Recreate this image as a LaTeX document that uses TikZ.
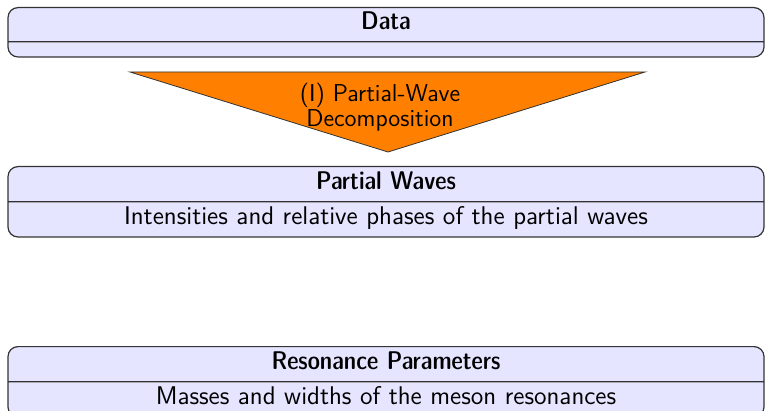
\documentclass[tikz,border=0pt]{standalone}
\usetikzlibrary{shapes.multipart}
\newcommand{\stagetitle}[1]{{\fontseries{sbc}\selectfont #1}}
\tikzset{
  stagebox/.style={rectangle split, rectangle split parts=2, draw=black!80,
    fill=blue!10, rounded corners=5pt, line width=0.6pt, text width=370pt,
    align=center, inner xsep=4pt, inner ysep=2pt,
    font=\sffamily\fontsize{12.8}{13}\selectfont},
  stepwedge/.style={fill=orange, draw=black!80, line width=0.4pt},
  steplabel/.style={align=center, font=\sffamily\fontsize{12.2}{12.5}\selectfont}
}
\begin{document}
\begin{tikzpicture}[x=0.5pt,y=-0.5pt]
  \useasboundingbox (0,0) rectangle (765,411);
  % stages
  \node[stagebox, anchor=north] (data) at (386,7)
    {\rule[-3.6pt]{0pt}{12.4pt}\stagetitle{Data}\nodepart{two}\rule{0pt}{3pt}};
  \node[stagebox, anchor=north] (waves) at (386,166)
    {\strut\stagetitle{Partial Waves}\nodepart{two}\strut Intensities and relative phases of the partial waves};
  \node[stagebox, anchor=north] (params) at (386,346)
    {\strut\stagetitle{Resonance Parameters}\nodepart{two}\strut Masses and widths of the meson resonances};
  % step (I)
  \coordinate (wedge-l) at (130,72);
  \coordinate (wedge-r) at (645,72);
  \coordinate (wedge-tip) at (388,152);
  \draw[stepwedge] (wedge-l) -- (wedge-r) -- (wedge-tip) -- cycle;
  \node[steplabel] (pwa) at (380,107) {(I) Partial-Wave\\Decomposition};
\end{tikzpicture}
\end{document}
